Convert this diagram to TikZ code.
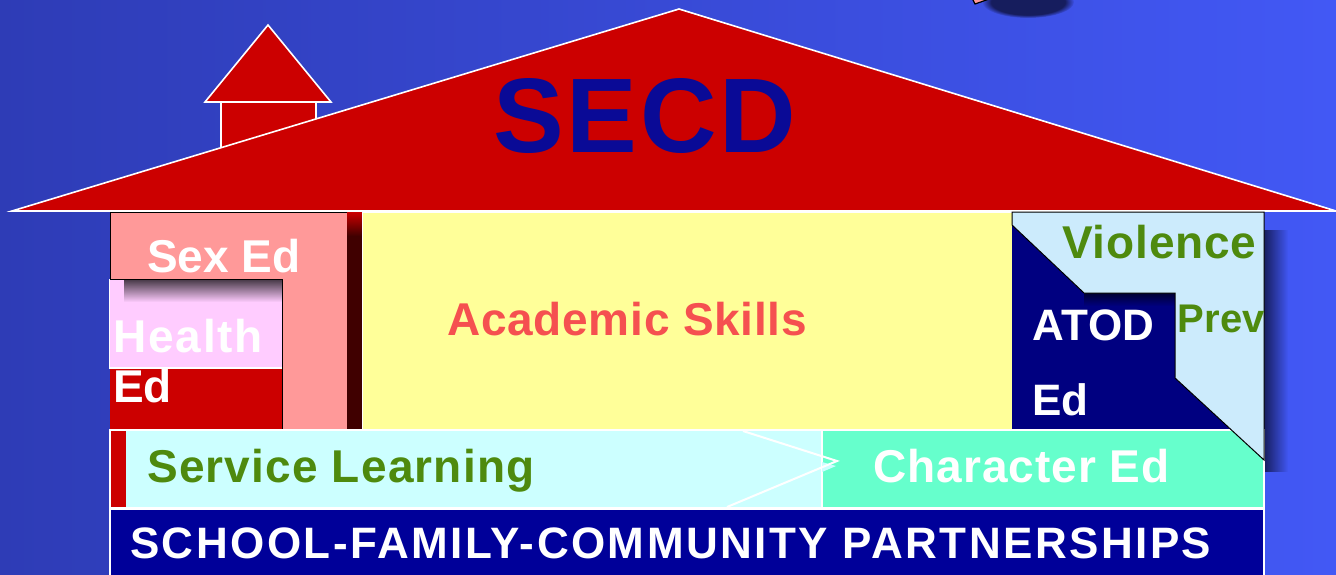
\documentclass[tikz,border=0pt]{standalone}
\usepackage{fontspec}
\setmainfont{Liberation Sans}
\usetikzlibrary{fadings}
\definecolor{bgL}{RGB}{46,60,182}
\definecolor{bgR}{RGB}{66,88,245}
\definecolor{roofred}{RGB}{204,0,0}
\definecolor{sexpink}{RGB}{255,153,153}
\definecolor{healthpink}{RGB}{255,204,255}
\definecolor{darkcol}{RGB}{64,0,0}
\definecolor{acadyellow}{RGB}{255,255,153}
\definecolor{violblue}{RGB}{204,235,252}
\definecolor{atodnavy}{RGB}{0,0,128}
\definecolor{barnavy}{RGB}{0,0,153}
\definecolor{servcyan}{RGB}{204,255,255}
\definecolor{charmint}{RGB}{102,255,204}
\definecolor{txtgreen}{RGB}{78,138,14}
\definecolor{txtsalmon}{RGB}{245,80,80}
\definecolor{secdblue}{RGB}{10,10,150}
\definecolor{shadownavy}{RGB}{16,20,70}
\tikzfading[name=fadeR, left color=transparent!0, right color=transparent!100]
\tikzfading[name=fadeD, top color=transparent!0, bottom color=transparent!100]
\newcommand{\ls}[1]{\addfontfeature{LetterSpace=#1}}
\begin{document}
\begin{tikzpicture}[x=1pt,y=-1pt,
  lbl/.style={inner sep=0pt, anchor=base west, font=\bfseries\fontsize{46}{50}\selectfont},
  wline/.style={draw=white, line width=1.6pt},
  bline/.style={draw=black, line width=1pt}]
\useasboundingbox (0,0) rectangle (1336,574);
% background
\shade[left color=bgL, right color=bgR] (0,0) rectangle (1336,574);
% small object at top edge and its shadow
\fill[shadownavy, fill opacity=0.85, path fading=circle with fuzzy edge 20 percent] (1028,2) ellipse (46pt and 16pt);
\filldraw[fill=sexpink, draw=black, line width=1.2pt] (972,-2) -- (975,4) -- (992,-2) -- cycle;
% chimney
\draw[wline, fill=roofred] (221,102) rectangle (316,170);
\draw[wline, fill=roofred, line join=miter] (205,102) -- (268,25) -- (331,102) -- cycle;
% roof
\draw[wline, fill=roofred] (12,211) -- (679,9) -- (1336,211) -- cycle;
\node[inner sep=0pt, anchor=base west, text=secdblue, font=\bfseries\fontsize{106}{110}\selectfont\ls{2.8}] (secd) at (493,152) {SECD};
% Sex Ed block
\filldraw[fill=sexpink, bline] (110,212) rectangle (347,430);
\fill[darkcol] (347,212) rectangle (362,430);
\shade[top color=roofred, bottom color=darkcol] (347,212) rectangle (362,236);
% Health / Ed
\fill[healthpink] (109,279) rectangle (282,368);
\fill[black!70!healthpink, path fading=fadeD] (124,280) rectangle (282,302);
\fill[roofred] (110,368) rectangle (282,430);
\draw[white, line width=1.2pt] (109,368) -- (282,368);
\draw[white, line width=1pt] (109,279) -- (109,368);
\draw[bline] (110,279) -- (282,279) -- (282,430);
\node[lbl, text=white] (sexed) at (147,272) {Sex Ed};
\node[lbl, text=white, font=\bfseries\fontsize{46}{50}\selectfont\ls{4}] (health) at (113,352) {Health};
\node[lbl, text=white] (hed) at (113,402) {Ed};
% Academic
\filldraw[fill=acadyellow, draw=white, line width=1pt] (362,212) rectangle (1012,430);
\node[lbl, text=txtsalmon, font=\bfseries\fontsize{46}{50}\selectfont\ls{1.6}] (acad) at (447,335) {Academic Skills};
% ATOD / Violence
\fill[atodnavy] (1012,212) rectangle (1264,430);
\fill[shadownavy, fill opacity=0.85, path fading=fadeR] (1264,230) rectangle (1288,472);
\fill[black, fill opacity=0.6, path fading=fadeD] (1084,293) rectangle (1175,306);
\node[lbl, text=white, font=\bfseries\fontsize{44}{48}\selectfont\ls{1.5}] (atod) at (1032,340) {ATOD};
\node[lbl, text=white, font=\bfseries\fontsize{44}{48}\selectfont] (aed) at (1032,415) {Ed};
% Service / Character row
\filldraw[fill=servcyan, draw=white, line width=1.2pt] (110,430) rectangle (822,508);
\fill[roofred] (111,431) rectangle (126,507);
\filldraw[fill=charmint, draw=white, line width=1.2pt] (822,430) rectangle (1264,508);
\fill[servcyan] (822,462) -- (836,466) -- (822,472) -- cycle;
\draw[white, line width=2pt, line join=miter] (743,431) -- (837,461) -- (727,507);
\node[lbl, text=txtgreen, font=\bfseries\fontsize{46}{50}\selectfont\ls{2.6}] (serv) at (147,482) {Service Learning};
\node[lbl, text=white, font=\bfseries\fontsize{46}{50}\selectfont\ls{2.2}] (char) at (873,482) {Character Ed};
% Violence Prev polygon (on top)
\filldraw[fill=violblue, bline, line join=miter] (1012,212) -- (1264,212) -- (1264,460) -- (1175,378) -- (1175,293) -- (1084,293) -- (1012,225) -- cycle;
\node[lbl, text=txtgreen, font=\bfseries\fontsize{46}{50}\selectfont\ls{1.8}] (viol) at (1062,258) {Violence};
\node[lbl, text=txtgreen, font=\bfseries\fontsize{40}{44}\selectfont\ls{1}] (prev) at (1177,332) {Prev};
% partnership bar
\filldraw[fill=barnavy, draw=white, line width=1.2pt] (110,509) rectangle (1264,580);
\node[lbl, text=white, font=\bfseries\fontsize{44}{48}\selectfont\ls{5.6}] (sfc) at (130,558) {SCHOOL-FAMILY-COMMUNITY PARTNERSHIPS};
\end{tikzpicture}
\end{document}
